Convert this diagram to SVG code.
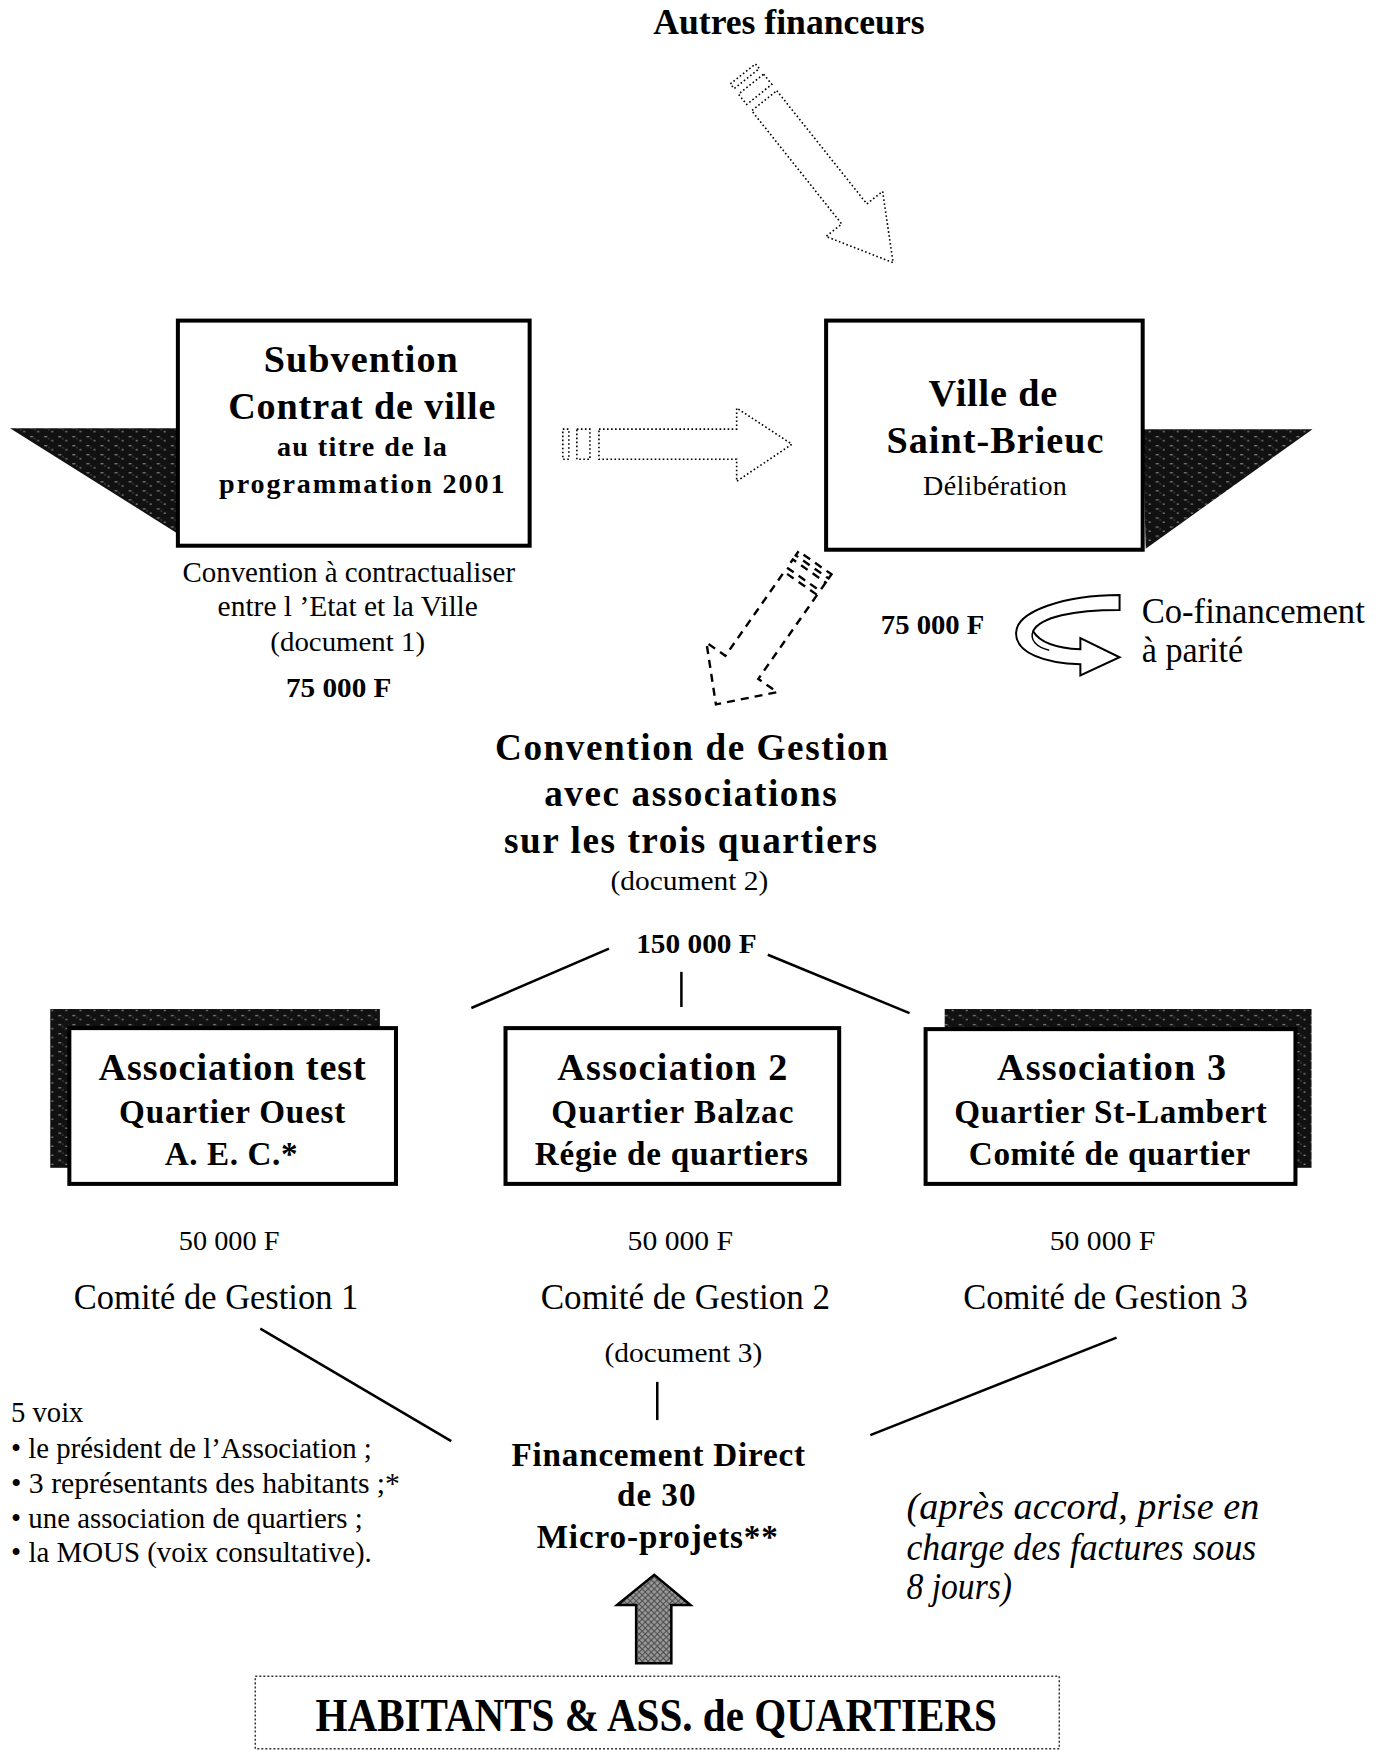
<svg xmlns="http://www.w3.org/2000/svg" width="1378" height="1751" viewBox="0 0 1378 1751">
<defs>
<pattern id="speck" width="14" height="9" patternUnits="userSpaceOnUse">
<rect width="14" height="9" fill="#111"/>
<rect x="2" y="2" width="3" height="1" fill="#9a9a9a"/>
<rect x="9" y="6" width="2" height="1" fill="#aaa"/>
<rect x="6" y="4" width="1" height="1" fill="#777"/>
</pattern>
<pattern id="hatch" width="6" height="6" patternUnits="userSpaceOnUse">
<rect width="6" height="6" fill="#9a9a9a"/>
<path d="M0,6 L6,0 M0,0 L6,6" stroke="#444" stroke-width="1"/>
</pattern>
<style>
.b{font-family:"Liberation Serif","Times New Roman",serif;font-weight:bold;fill:#000}
.r{font-family:"Liberation Serif","Times New Roman",serif;fill:#000}
.it{font-family:"Liberation Serif","Times New Roman",serif;font-style:italic;fill:#000}
.box{fill:#fff;stroke:#000;stroke-width:4}
.line{stroke:#000;stroke-width:2.5;fill:none}
.dot{fill:#fff;stroke:#000;stroke-width:1.6;stroke-dasharray:1.6 2.4}
.dash{fill:#fff;stroke:#000;stroke-width:2.4;stroke-dasharray:8 6}
</style>
</defs>
<rect width="1378" height="1751" fill="#fff"/>
<g transform="scale(1.005)">

<g id="autres-financeurs">
<text class="b" x="785" y="34" font-size="35" text-anchor="middle" textLength="270" lengthAdjust="spacingAndGlyphs">Autres financeurs</text>
</g>

<g id="connectors">
<g transform="translate(738,72) rotate(51.5)">
<rect class="dot" x="2" y="-16" width="6" height="32"/>
<rect class="dot" x="15" y="-16" width="13" height="32"/>
<path class="dot" d="M36,-16 H180 V-36 L242,0 L180,36 V16 H36 Z"/>
</g>
<g transform="translate(558,442)">
<rect class="dot" x="2" y="-15" width="6" height="30"/>
<rect class="dot" x="16" y="-15" width="13" height="30"/>
<path class="dot" d="M38,-15 H175 V-36 L230,0 L175,37 V15 H38 Z"/>
</g>
<g transform="translate(811,560) rotate(125)">
<rect class="dash" x="0" y="-20" width="5" height="40" stroke-dasharray="5 4"/>
<rect class="dash" x="10" y="-20" width="10" height="40" stroke-dasharray="5 4"/>
<path class="dash" d="M25,-20 H127 V-43 L172,0 L127,43 V20 H25 Z"/>
</g>
<path d="M1114,592 L1114,607 C1068,607 1035,614 1028,628 C1035,640 1055,645 1075,646 L1075,635 L1114,654 L1075,672 L1075,661 C1040,660 1011,650 1011,630 C1011,608 1060,592 1114,592 Z" fill="#fff" stroke="#000" stroke-width="2"/>
<path d="M1028,628 C1024,637 1032,644 1044,647" fill="none" stroke="#000" stroke-width="1.5"/>
<line class="line" x1="606" y1="944" x2="469" y2="1003"/>
<line class="line" x1="678" y1="967" x2="678" y2="1002"/>
<line class="line" x1="764" y1="950" x2="905" y2="1008"/>
<line class="line" x1="259" y1="1322" x2="449" y2="1434"/>
<line class="line" x1="654" y1="1375" x2="654" y2="1413"/>
<line class="line" x1="1111" y1="1331" x2="866" y2="1428"/>
<path d="M633,1655 V1597 H614 L651,1567 L687,1597 H668 V1655 Z" fill="url(#hatch)" stroke="#000" stroke-width="2.5"/>
</g>

<g id="subvention">
<polygon points="10,426 177,426 177,531" fill="url(#speck)"/>
<rect class="box" x="177" y="319" width="350" height="224"/>
<text class="b" x="359" y="370" font-size="38" text-anchor="middle" textLength="193">Subvention</text>
<text class="b" x="360" y="417" font-size="38" text-anchor="middle" textLength="266">Contrat de ville</text>
<text class="b" x="360" y="454" font-size="28" text-anchor="middle" textLength="169">au titre de la</text>
<text class="b" x="360" y="491" font-size="28" text-anchor="middle" textLength="284">programmation 2001</text>
</g>

<g id="convention-etat">
<text class="r" x="347" y="579" font-size="30" text-anchor="middle" textLength="331" lengthAdjust="spacingAndGlyphs">Convention à contractualiser</text>
<text class="r" x="346" y="613" font-size="30" text-anchor="middle" textLength="259" lengthAdjust="spacingAndGlyphs">entre l ’Etat et la Ville</text>
<text class="r" x="346" y="648" font-size="27" text-anchor="middle" textLength="154" lengthAdjust="spacingAndGlyphs">(document 1)</text>
<text class="b" x="337" y="694" font-size="27" text-anchor="middle" textLength="105" lengthAdjust="spacingAndGlyphs">75 000 F</text>
</g>

<g id="ville">
<polygon points="1137,427 1306,427 1140,546" fill="url(#speck)"/>
<rect class="box" x="822" y="319" width="315" height="228"/>
<text class="b" x="988" y="404" font-size="38" text-anchor="middle" textLength="128">Ville de</text>
<text class="b" x="990" y="451" font-size="38" text-anchor="middle" textLength="216">Saint-Brieuc</text>
<text class="r" x="990" y="493" font-size="28" text-anchor="middle" textLength="143">Délibération</text>
</g>

<g id="cofinancement">
<text class="b" x="928" y="631" font-size="27" text-anchor="middle" textLength="103" lengthAdjust="spacingAndGlyphs">75 000 F</text>
<text class="r" x="1136" y="620" font-size="35" textLength="222" lengthAdjust="spacingAndGlyphs">Co-financement</text>
<text class="r" x="1136" y="659" font-size="35" textLength="101" lengthAdjust="spacingAndGlyphs">à parité</text>
</g>

<g id="convention-gestion">
<text class="b" x="688" y="756" font-size="37" text-anchor="middle" textLength="391">Convention de Gestion</text>
<text class="b" x="687" y="802" font-size="37" text-anchor="middle" textLength="291">avec associations</text>
<text class="b" x="687" y="849" font-size="37" text-anchor="middle" textLength="371">sur les trois quartiers</text>
<text class="r" x="686" y="886" font-size="27" text-anchor="middle" textLength="157" lengthAdjust="spacingAndGlyphs">(document 2)</text>
<text class="b" x="693" y="948" font-size="27" text-anchor="middle" textLength="120" lengthAdjust="spacingAndGlyphs">150 000 F</text>
</g>

<g id="association-test">
<rect x="50" y="1004" width="328" height="158" fill="url(#speck)"/>
<rect class="box" x="69" y="1023" width="325" height="155"/>
<text class="b" x="231" y="1075" font-size="38" text-anchor="middle" textLength="266">Association test</text>
<text class="b" x="231" y="1117" font-size="33" text-anchor="middle" textLength="225">Quartier Ouest</text>
<text class="b" x="230" y="1159" font-size="33" text-anchor="middle" textLength="132">A. E. C.*</text>
</g>

<g id="association-2">
<rect class="box" x="503" y="1023" width="332" height="155"/>
<text class="b" x="669" y="1075" font-size="38" text-anchor="middle" textLength="229">Association 2</text>
<text class="b" x="669" y="1117" font-size="33" text-anchor="middle" textLength="241">Quartier Balzac</text>
<text class="b" x="668" y="1159" font-size="33" text-anchor="middle" textLength="272">Régie de quartiers</text>
</g>

<g id="association-3">
<rect x="940" y="1004" width="365" height="158" fill="url(#speck)"/>
<rect class="box" x="921" y="1024" width="368" height="154"/>
<text class="b" x="1106" y="1075" font-size="38" text-anchor="middle" textLength="228">Association 3</text>
<text class="b" x="1105" y="1117" font-size="33" text-anchor="middle" textLength="311">Quartier St-Lambert</text>
<text class="b" x="1104" y="1159" font-size="33" text-anchor="middle" textLength="280">Comité de quartier</text>
</g>

<g id="comite-1">
<text class="r" x="228" y="1244" font-size="28" text-anchor="middle" textLength="100" lengthAdjust="spacingAndGlyphs">50 000 F</text>
<text class="r" x="215" y="1302" font-size="36" text-anchor="middle" textLength="283" lengthAdjust="spacingAndGlyphs">Comité de Gestion 1</text>
</g>
<g id="comite-2">
<text class="r" x="677" y="1244" font-size="28" text-anchor="middle" textLength="105" lengthAdjust="spacingAndGlyphs">50 000 F</text>
<text class="r" x="682" y="1302" font-size="36" text-anchor="middle" textLength="288" lengthAdjust="spacingAndGlyphs">Comité de Gestion 2</text>
<text class="r" x="680" y="1355" font-size="27" text-anchor="middle" textLength="157" lengthAdjust="spacingAndGlyphs">(document 3)</text>
</g>
<g id="comite-3">
<text class="r" x="1097" y="1244" font-size="28" text-anchor="middle" textLength="105" lengthAdjust="spacingAndGlyphs">50 000 F</text>
<text class="r" x="1100" y="1302" font-size="36" text-anchor="middle" textLength="283" lengthAdjust="spacingAndGlyphs">Comité de Gestion 3</text>
</g>

<g id="voix">
<text class="r" x="11" y="1415" font-size="29" textLength="72" lengthAdjust="spacingAndGlyphs">5 voix</text>
<text class="r" x="11" y="1451" font-size="29" textLength="359" lengthAdjust="spacingAndGlyphs">• le président de l’Association ;</text>
<text class="r" x="11" y="1486" font-size="29" textLength="387" lengthAdjust="spacingAndGlyphs">• 3  représentants des habitants ;*</text>
<text class="r" x="11" y="1520" font-size="29" textLength="350" lengthAdjust="spacingAndGlyphs">• une association de quartiers ;</text>
<text class="r" x="11" y="1554" font-size="29" textLength="359" lengthAdjust="spacingAndGlyphs">• la MOUS (voix consultative).</text>
</g>

<g id="financement-direct">
<text class="b" x="655" y="1459" font-size="33" text-anchor="middle" textLength="292">Financement Direct</text>
<text class="b" x="653" y="1499" font-size="33" text-anchor="middle" textLength="78">de 30</text>
<text class="b" x="654" y="1540" font-size="33" text-anchor="middle" textLength="240">Micro-projets**</text>
</g>

<g id="accord">
<text class="it" x="902" y="1511" font-size="37" textLength="351" lengthAdjust="spacingAndGlyphs">(après accord, prise en</text>
<text class="it" x="902" y="1552" font-size="37" textLength="348" lengthAdjust="spacingAndGlyphs">charge des factures  sous</text>
<text class="it" x="902" y="1591" font-size="37" textLength="105" lengthAdjust="spacingAndGlyphs">8 jours)</text>
</g>

<g id="habitants">
<rect x="254" y="1668" width="800" height="72" fill="#fff" stroke="#333" stroke-width="1.5" stroke-dasharray="2 2"/>
<text class="b" x="653" y="1722" font-size="47" text-anchor="middle" textLength="678" lengthAdjust="spacingAndGlyphs">HABITANTS &amp; ASS. de QUARTIERS</text>
</g>
</g>
</svg>
